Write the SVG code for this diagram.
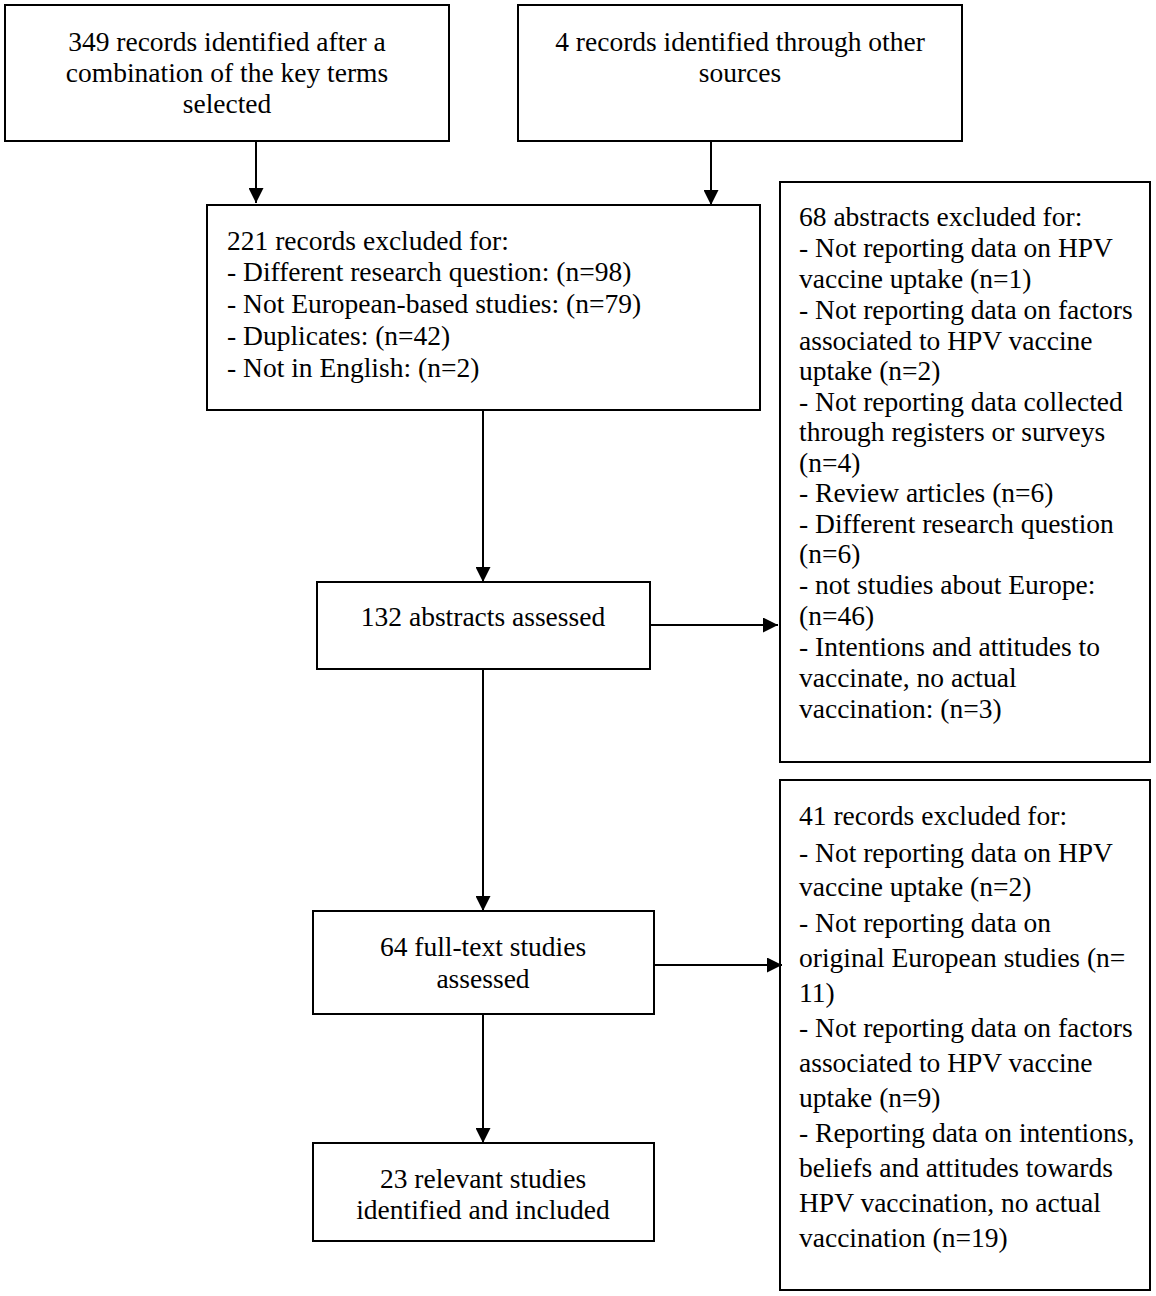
<svg xmlns="http://www.w3.org/2000/svg" width="1156" height="1296" viewBox="0 0 1156 1296">
<style>
.box{fill:#fff;stroke:#000;stroke-width:2}
text{font-family:"Liberation Serif","Times New Roman",serif;font-size:27.5px;fill:#000}
.c{text-anchor:middle}
.conn{stroke:#000;stroke-width:2;fill:none}
</style>
<defs>
<marker id="ah" viewBox="0 0 10 10" refX="10" refY="5" markerWidth="15" markerHeight="15" markerUnits="userSpaceOnUse" orient="auto">
<path d="M0,0 L10,5 L0,10 z" fill="#000"/>
</marker>
</defs>
<rect width="1156" height="1296" fill="#fff"/>
<g id="n-349">
<rect class="box" x="5" y="5" width="444" height="136"/>
<text class="c" x="227" y="51">349 records identified after a</text>
<text class="c" x="227" y="82">combination of the key terms</text>
<text class="c" x="227" y="113">selected</text>
</g>
<g id="n-4">
<rect class="box" x="518" y="5" width="444" height="136"/>
<text class="c" x="740" y="51">4 records identified through other</text>
<text class="c" x="740" y="82">sources</text>
</g>
<g id="n-221">
<rect class="box" x="207" y="205" width="553" height="205"/>
<text x="227" y="250">221 records excluded for:</text>
<text x="227" y="281">- Different research question: (n=98)</text>
<text x="227" y="313">- Not European-based studies: (n=79)</text>
<text x="227" y="345">- Duplicates: (n=42)</text>
<text x="227" y="377">- Not in English: (n=2)</text>
</g>
<g id="n-68">
<rect class="box" x="780" y="182" width="370" height="580"/>
<text x="799" y="226">68 abstracts excluded for:</text>
<text x="799" y="257">- Not reporting data on HPV</text>
<text x="799" y="288">vaccine uptake (n=1)</text>
<text x="799" y="319">- Not reporting data on factors</text>
<text x="799" y="350">associated to HPV vaccine</text>
<text x="799" y="380">uptake (n=2)</text>
<text x="799" y="411">- Not reporting data collected</text>
<text x="799" y="441">through registers or surveys</text>
<text x="799" y="472">(n=4)</text>
<text x="799" y="502">- Review articles (n=6)</text>
<text x="799" y="533">- Different research question</text>
<text x="799" y="563">(n=6)</text>
<text x="799" y="594">- not studies about Europe:</text>
<text x="799" y="625">(n=46)</text>
<text x="799" y="656">- Intentions and attitudes to</text>
<text x="799" y="687">vaccinate, no actual</text>
<text x="799" y="718">vaccination: (n=3)</text>
</g>
<g id="n-132">
<rect class="box" x="317" y="582" width="333" height="87"/>
<text class="c" x="483" y="626">132 abstracts assessed</text>
</g>
<g id="n-41">
<rect class="box" x="780" y="780" width="370" height="510"/>
<text x="799" y="825">41 records excluded for:</text>
<text x="799" y="862">- Not reporting data on HPV</text>
<text x="799" y="896">vaccine uptake (n=2)</text>
<text x="799" y="932">- Not reporting data on</text>
<text x="799" y="967">original European studies (n=</text>
<text x="799" y="1002">11)</text>
<text x="799" y="1037">- Not reporting data on factors</text>
<text x="799" y="1072">associated to HPV vaccine</text>
<text x="799" y="1107">uptake (n=9)</text>
<text x="799" y="1142">- Reporting data on intentions,</text>
<text x="799" y="1177">beliefs and attitudes towards</text>
<text x="799" y="1212">HPV vaccination, no actual</text>
<text x="799" y="1247">vaccination (n=19)</text>
</g>
<g id="n-64">
<rect class="box" x="313" y="911" width="341" height="103"/>
<text class="c" x="483" y="956">64 full-text studies</text>
<text class="c" x="483" y="988">assessed</text>
</g>
<g id="n-23">
<rect class="box" x="313" y="1143" width="341" height="98"/>
<text class="c" x="483" y="1188">23 relevant studies</text>
<text class="c" x="483" y="1219">identified and included</text>
</g>
<g id="connectors">
<line class="conn" x1="256" y1="141" x2="256" y2="203" marker-end="url(#ah)"/>
<line class="conn" x1="711" y1="141" x2="711" y2="205" marker-end="url(#ah)"/>
<line class="conn" x1="483" y1="410" x2="483" y2="582" marker-end="url(#ah)"/>
<line class="conn" x1="650" y1="625" x2="778" y2="625" marker-end="url(#ah)"/>
<line class="conn" x1="483" y1="669" x2="483" y2="911" marker-end="url(#ah)"/>
<line class="conn" x1="654" y1="965" x2="782" y2="965" marker-end="url(#ah)"/>
<line class="conn" x1="483" y1="1014" x2="483" y2="1143" marker-end="url(#ah)"/>
</g>
</svg>
